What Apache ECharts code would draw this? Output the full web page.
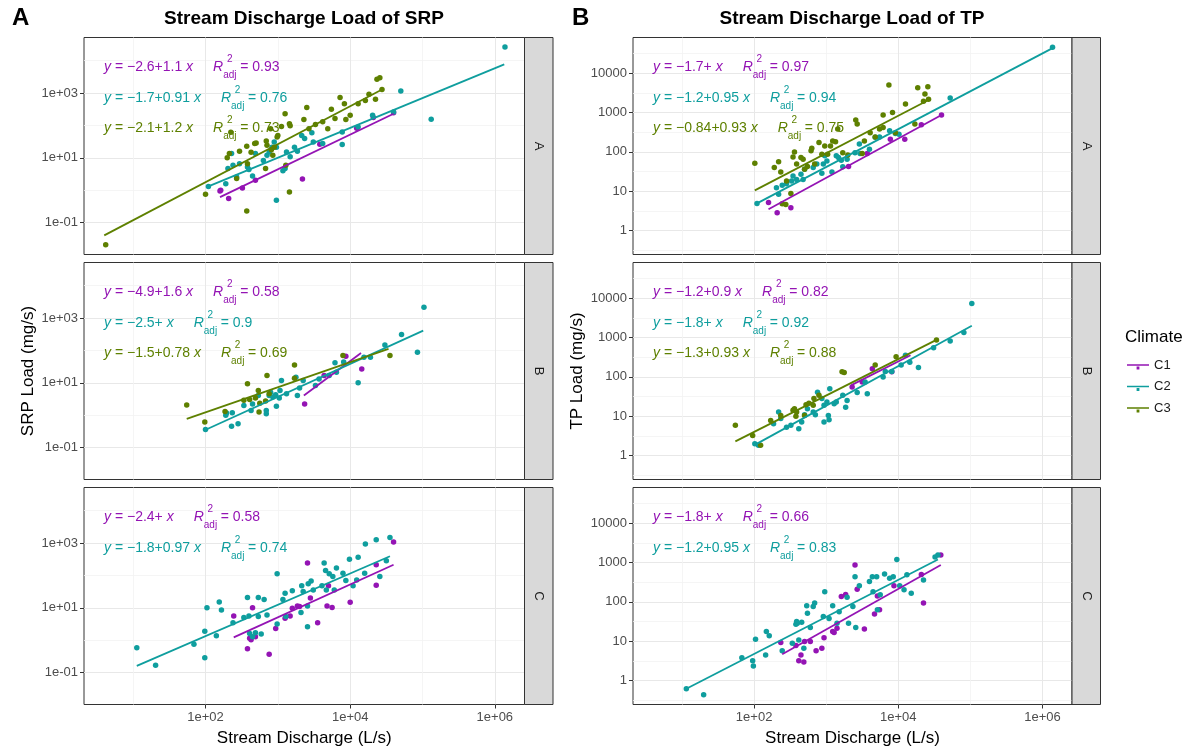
<!DOCTYPE html>
<html><head><meta charset="utf-8">
<script src="https://cdn.jsdelivr.net/npm/echarts@6/dist/echarts.min.js"></script>
<style>html,body{margin:0;padding:0;background:#fff}#c{width:1193px;height:751px}</style>
</head><body><div id="c"></div>
<script>
// All point values are [log10(stream discharge, L/s), log10(load, mg/s)].
// ---------- SRP, facet A ----------
const srpA_C1 = [[2.20,-0.02],[2.21,0.00],[2.32,-0.25],[2.51,0.07],[2.69,0.31],[3.34,0.35],[3.58,1.42],[4.09,1.91],[4.32,2.24],[4.60,2.39]];
const srpA_C2 = [[2.04,0.12],[2.28,0.20],[2.36,1.13],[2.31,0.67],[2.38,0.77],[2.43,0.41],[2.47,0.82],[2.58,0.72],[2.60,0.64],[2.65,0.44],[2.69,1.13],[2.80,0.92],[2.85,1.08],[2.88,1.18],[2.92,1.33],[2.95,1.49],[2.98,1.33],[2.98,-0.31],[3.07,0.60],[3.10,0.67],[3.12,1.18],[3.17,1.03],[3.23,1.33],[3.27,1.20],[3.33,1.69],[3.37,1.60],[3.47,1.77],[3.49,1.49],[3.62,1.44],[3.89,1.41],[3.89,1.80],[4.11,1.95],[4.31,2.31],[4.60,2.41],[4.70,3.06],[5.12,2.19],[6.14,4.42]];
const srpA_C3 = [[0.62,-1.68],[2.00,-0.12],[2.30,1.00],[2.33,1.13],[2.35,1.79],[2.43,0.36],[2.47,1.20],[2.57,-0.64],[2.57,1.36],[2.58,0.82],[2.63,1.17],[2.68,1.44],[2.70,1.46],[2.83,0.67],[2.84,1.52],[2.85,1.39],[2.91,1.25],[2.93,1.08],[2.95,1.33],[2.99,1.64],[3.00,1.69],[2.90,1.90],[3.05,1.97],[3.10,2.36],[3.11,0.77],[3.16,2.05],[3.17,1.99],[3.16,-0.05],[3.36,2.18],[3.40,2.55],[3.43,1.90],[3.52,2.03],[3.62,2.11],[3.69,1.90],[3.74,2.50],[3.79,2.21],[3.86,2.86],[3.92,2.67],[3.94,2.18],[4.00,2.31],[4.11,2.67],[4.21,2.77],[4.26,2.96],[4.35,2.81],[4.37,3.42],[4.41,3.47],[4.44,3.11]];
const fitSrpA_C1 = [[2.20,-0.21],[4.60,2.36]];
const fitSrpA_C2 = [[2.04,0.12],[6.13,3.88]];
const fitSrpA_C3 = [[0.60,-1.39],[4.46,3.13]];
// ---------- SRP, facet B ----------
const srpB_C1 = [[3.37,0.35],[3.64,1.23],[3.94,1.82],[4.16,1.43]];
const srpB_C2 = [[2.00,-0.44],[2.29,0.07],[2.28,0.00],[2.37,0.08],[2.36,-0.34],[2.45,-0.26],[2.53,0.30],[2.63,0.15],[2.65,0.35],[2.73,0.61],[2.84,0.05],[2.84,0.15],[2.88,0.61],[2.90,0.71],[2.93,0.56],[2.97,0.63],[2.98,0.28],[3.02,0.53],[3.03,0.76],[3.05,1.07],[3.12,0.66],[3.25,1.17],[3.27,0.61],[3.30,0.84],[3.35,1.07],[3.52,0.92],[3.57,1.12],[3.71,1.23],[3.79,1.62],[3.81,1.33],[3.91,1.64],[4.11,1.00],[4.19,1.79],[4.28,1.79],[4.48,2.17],[4.71,2.49],[4.93,1.94],[5.02,3.33]];
const srpB_C3 = [[1.74,0.32],[1.99,-0.21],[2.27,0.12],[2.53,0.46],[2.58,0.97],[2.61,0.49],[2.73,0.76],[2.69,0.53],[2.74,0.10],[2.75,0.37],[2.83,0.44],[2.85,1.23],[2.88,0.66],[3.23,1.55],[3.23,1.14],[3.90,1.84],[4.55,1.84]];
const fitSrpB_C1 = [[3.36,0.61],[4.15,1.92]];
const fitSrpB_C2 = [[2.01,-0.44],[5.01,2.61]];
const fitSrpB_C3 = [[1.74,-0.11],[4.53,2.05]];
// ---------- SRP, facet C ----------
const srpC_C1 = [[2.39,0.75],[2.63,0.02],[2.65,1.00],[2.61,0.06],[2.58,-0.26],[2.69,0.11],[2.88,-0.43],[2.97,0.36],[3.10,0.68],[3.17,0.75],[3.20,0.99],[3.27,1.06],[3.30,1.04],[3.41,2.38],[3.45,1.30],[3.55,0.54],[3.70,1.68],[3.68,1.06],[3.75,1.01],[4.00,1.17],[4.36,2.33],[4.36,1.70],[4.60,3.03]];
const srpC_C2 = [[1.05,-0.23],[1.31,-0.77],[1.84,-0.12],[1.99,-0.54],[1.99,0.28],[2.02,1.00],[2.15,0.14],[2.19,1.18],[2.22,0.93],[2.38,0.54],[2.53,0.70],[2.58,1.32],[2.60,0.75],[2.61,0.21],[2.65,0.11],[2.69,0.23],[2.73,1.32],[2.73,0.73],[2.77,0.19],[2.81,1.26],[2.85,0.78],[2.99,2.05],[2.99,0.50],[3.07,1.26],[3.10,1.45],[3.11,0.73],[3.20,1.53],[3.32,0.86],[3.33,1.68],[3.35,1.50],[3.41,0.42],[3.41,1.06],[3.42,1.74],[3.46,1.83],[3.49,1.55],[3.61,1.68],[3.64,2.38],[3.66,2.15],[3.67,1.55],[3.71,2.05],[3.76,1.97],[3.78,1.55],[3.81,2.23],[3.90,2.07],[3.94,1.84],[3.99,2.50],[4.04,1.68],[4.09,1.86],[4.11,2.56],[4.20,2.07],[4.21,2.97],[4.36,3.10],[4.41,1.97],[4.50,2.45],[4.55,3.17]];
const fitSrpC_C1 = [[2.39,0.09],[4.60,2.33]];
const fitSrpC_C2 = [[1.05,-0.79],[4.55,2.59]];
// ---------- TP, facet A ----------
const tpA_C1 = [[2.20,0.71],[2.32,0.45],[2.51,0.58],[3.31,1.63],[3.57,1.96],[3.89,2.32],[4.09,2.32],[4.32,2.69],[4.60,2.94]];
const tpA_C2 = [[2.04,0.69],[2.31,1.09],[2.34,0.92],[2.39,1.15],[2.45,1.19],[2.52,1.26],[2.54,1.39],[2.59,1.30],[2.65,1.43],[2.68,1.30],[2.70,1.56],[2.82,1.60],[2.87,1.69],[2.94,1.46],[2.96,1.69],[2.98,1.90],[3.01,1.77],[3.08,1.49],[3.14,1.90],[3.17,1.86],[3.21,1.79],[3.23,1.62],[3.29,1.81],[3.40,1.98],[3.46,2.20],[3.47,1.96],[3.60,2.07],[3.68,2.37],[3.74,2.38],[3.88,2.54],[3.96,2.47],[4.01,2.45],[4.72,3.37],[6.14,4.66]];
const tpA_C3 = [[2.01,1.71],[2.28,1.60],[2.34,1.75],[2.37,1.49],[2.39,0.68],[2.44,0.66],[2.45,1.26],[2.51,0.94],[2.54,1.87],[2.56,2.00],[2.59,1.69],[2.65,1.86],[2.68,1.81],[2.70,1.56],[2.74,1.63],[2.79,2.03],[2.80,2.09],[2.84,1.69],[2.90,2.24],[2.94,1.94],[2.98,2.15],[3.02,1.94],[3.06,2.15],[3.09,2.28],[3.13,2.26],[3.16,2.58],[3.23,1.98],[3.30,1.92],[3.41,2.81],[3.43,2.71],[3.50,1.96],[3.53,2.28],[3.61,2.49],[3.68,2.38],[3.74,2.58],[3.79,2.94],[3.79,2.62],[3.87,3.70],[3.92,3.00],[3.96,2.49],[4.10,3.22],[4.23,2.71],[4.27,3.63],[4.35,3.29],[4.37,3.47],[4.41,3.66],[4.42,3.34]];
const fitTpA_C1 = [[2.20,0.54],[4.60,2.94]];
const fitTpA_C2 = [[2.04,0.69],[6.14,4.64]];
const fitTpA_C3 = [[2.01,1.02],[4.44,3.34]];
// ---------- TP, facet B ----------
const tpB_C1 = [[3.36,1.74],[3.50,1.87],[3.64,2.21],[3.91,2.13]];
const tpB_C2 = [[2.01,0.30],[2.06,0.26],[2.27,0.81],[2.34,1.11],[2.37,0.94],[2.45,0.72],[2.51,0.77],[2.62,0.68],[2.66,0.85],[2.70,1.04],[2.74,1.19],[2.82,1.11],[2.85,1.04],[2.88,1.61],[2.94,1.45],[2.97,0.85],[2.97,1.28],[3.01,1.36],[3.03,1.02],[3.04,0.91],[3.05,1.70],[3.11,1.32],[3.14,1.36],[3.23,1.53],[3.27,1.23],[3.29,1.40],[3.43,1.60],[3.54,1.87],[3.57,1.57],[3.79,2.00],[3.82,2.14],[3.91,2.14],[4.04,2.30],[4.10,2.55],[4.16,2.37],[4.28,2.24],[4.49,2.74],[4.72,2.91],[4.91,3.13],[5.02,3.87]];
const tpB_C3 = [[1.74,0.77],[1.98,0.51],[2.09,0.26],[2.23,0.89],[2.37,1.02],[2.54,1.15],[2.56,1.19],[2.58,1.00],[2.59,1.11],[2.70,1.02],[2.72,1.29],[2.76,1.33],[2.82,1.28],[2.83,1.45],[2.90,1.53],[3.22,2.13],[3.25,2.11],[3.68,2.30],[3.97,2.51],[4.53,2.94]];
const fitTpB_C1 = [[3.35,1.79],[4.17,2.55]];
const fitTpB_C2 = [[2.01,0.27],[5.02,3.30]];
const fitTpB_C3 = [[1.74,0.36],[4.55,2.96]];
// ---------- TP, facet C ----------
const tpC_C1 = [[2.37,0.97],[2.58,0.89],[2.62,0.50],[2.65,0.65],[2.69,0.47],[2.70,0.99],[2.78,0.99],[2.86,0.76],[2.94,0.82],[2.97,1.09],[3.09,1.25],[3.11,1.22],[3.15,1.33],[3.21,2.14],[3.27,2.19],[3.40,2.94],[3.43,2.32],[3.53,1.31],[3.67,1.69],[3.71,2.15],[3.74,1.80],[3.94,2.41],[4.35,1.97],[4.32,2.70],[4.59,3.19]];
const tpC_C2 = [[1.06,-0.21],[1.30,-0.36],[1.83,0.58],[1.98,0.50],[1.99,0.37],[2.02,1.05],[2.16,0.65],[2.17,1.25],[2.21,1.14],[2.39,0.76],[2.53,0.95],[2.58,1.43],[2.59,1.50],[2.60,1.46],[2.62,1.03],[2.66,1.48],[2.69,0.82],[2.73,1.90],[2.74,1.71],[2.78,1.35],[2.82,1.88],[2.84,1.97],[2.96,1.63],[2.98,2.26],[3.04,1.58],[3.09,1.90],[3.15,1.46],[3.18,1.75],[3.29,2.12],[3.31,1.46],[3.37,1.88],[3.40,2.64],[3.41,1.35],[3.46,2.41],[3.60,2.52],[3.64,2.64],[3.65,2.26],[3.70,2.64],[3.71,1.80],[3.75,2.18],[3.81,2.71],[3.88,2.60],[3.93,2.64],[3.98,3.08],[4.02,2.41],[4.08,2.31],[4.12,2.69],[4.18,2.22],[4.35,2.56],[4.51,3.14],[4.55,3.19]];
const fitTpC_C1 = [[2.39,0.67],[4.59,2.94]];
const fitTpC_C2 = [[1.06,-0.21],[4.55,3.08]];
// ---------- equation labels: [intercept, slope ('' = 1), adj. R2] ----------
const eqSrpA = [['−2.6','1.1','0.93'],['−1.7','0.91','0.76'],['−2.1','1.2','0.73']];
const eqSrpB = [['−4.9','1.6','0.58'],['−2.5','','0.9'],['−1.5','0.78','0.69']];
const eqSrpC = [['−2.4','','0.58'],['−1.8','0.97','0.74']];
const eqTpA  = [['−1.7','','0.97'],['−1.2','0.95','0.94'],['−0.84','0.93','0.75']];
const eqTpB  = [['−1.2','0.9','0.82'],['−1.8','','0.92'],['−1.3','0.93','0.88']];
const eqTpC  = [['−1.8','','0.66'],['−1.2','0.95','0.83']];
// ---------- ticks / labels ----------
const groups = ['C1','C2','C3'];
const facetLabels = ['A','B','C'];
const panelLetters = ['A','B'];
const panelTitles = ['Stream Discharge Load of SRP','Stream Discharge Load of TP'];
const yTitles = ['SRP Load (mg/s)','TP Load (mg/s)'];
const xTitle = 'Stream Discharge (L/s)';
const xTicks = [2,4,6], xTickLabels = ['1e+02','1e+04','1e+06'], xMinor = [1,3,5];
const srpTicks = [-1,1,3], srpTickLabels = ['1e-01','1e+01','1e+03'], srpMinor = [0,2,4];
const tpTicks = [0,1,2,3,4], tpTickLabels = ['1','10','100','1000','10000'], tpMinor = [-0.5,0.5,1.5,2.5,3.5,4.5];

// ---------- style / layout ----------
const F = '"Liberation Sans", Arial, sans-serif';
const COLORS = {C1:'#9414B4', C2:'#0F9E9E', C3:'#5E8000'};
const X_RANGE = [0.32, 6.41];
const Y_RANGE = [[-1.98, 4.71], [-0.61, 4.91]];
const COL_LEFT = [84, 633], COL_W = [440.5, 439];
const ROW_TOP = [37.5, 262.5, 487.5], ROW_H = 217, STRIP_W = 28.5;

const panels = [
  {col:0,row:0,pts:[srpA_C1,srpA_C2,srpA_C3],fit:[fitSrpA_C1,fitSrpA_C2,fitSrpA_C3],eq:eqSrpA},
  {col:0,row:1,pts:[srpB_C1,srpB_C2,srpB_C3],fit:[fitSrpB_C1,fitSrpB_C2,fitSrpB_C3],eq:eqSrpB},
  {col:0,row:2,pts:[srpC_C1,srpC_C2],fit:[fitSrpC_C1,fitSrpC_C2],eq:eqSrpC},
  {col:1,row:0,pts:[tpA_C1,tpA_C2,tpA_C3],fit:[fitTpA_C1,fitTpA_C2,fitTpA_C3],eq:eqTpA},
  {col:1,row:1,pts:[tpB_C1,tpB_C2,tpB_C3],fit:[fitTpB_C1,fitTpB_C2,fitTpB_C3],eq:eqTpB},
  {col:1,row:2,pts:[tpC_C1,tpC_C2],fit:[fitTpC_C1,fitTpC_C2],eq:eqTpC}
];

function fmt(ticks, labels) {
  return function (v) { const k = ticks.findIndex(t => Math.abs(t - v) < 1e-6); return k < 0 ? '' : labels[k]; };
}

const grids = [], xAxes = [], yAxes = [], series = [], graphics = [];
const N = panels.length;
panels.forEach((p, i) => {
  const left = COL_LEFT[p.col], w = COL_W[p.col], top = ROW_TOP[p.row];
  grids.push({left: left, top: top, width: w, height: ROW_H, show: true, backgroundColor: '#fff',
              borderColor: '#333', borderWidth: 1, containLabel: false, outerBoundsMode: 'none'});
  const bottom = p.row === 2;
  const yt = p.col === 0 ? {t: srpTicks, l: srpTickLabels, m: srpMinor} : {t: tpTicks, l: tpTickLabels, m: tpMinor};
  xAxes[i] = {
    type: 'value', gridIndex: i, min: X_RANGE[0], max: X_RANGE[1], position: 'bottom',
    axisLine: {show: false, onZero: false},
    axisTick: {show: bottom, customValues: xTicks, length: 4, lineStyle: {color: '#333', width: 1}},
    axisLabel: {show: bottom, customValues: xTicks, formatter: fmt(xTicks, xTickLabels), color: '#4d4d4d', fontSize: 13, fontFamily: F, margin: 6},
    splitLine: {show: true, lineStyle: {color: '#e8e8e8', width: 1}},
    name: bottom ? xTitle : '', nameLocation: 'middle', nameGap: 25,
    nameTextStyle: {fontSize: 17, color: '#000', fontFamily: F}
  };
  xAxes[N + i] = {
    type: 'value', gridIndex: i, min: X_RANGE[0], max: X_RANGE[1], position: 'top',
    axisLine: {show: false, onZero: false}, axisLabel: {show: false},
    axisTick: {show: false, customValues: xMinor},
    splitLine: {show: true, lineStyle: {color: '#f2f2f2', width: 0.8}}
  };
  yAxes[i] = {
    type: 'value', gridIndex: i, min: Y_RANGE[p.col][0], max: Y_RANGE[p.col][1], position: 'left',
    axisLine: {show: false, onZero: false},
    axisTick: {show: true, customValues: yt.t, length: 4, lineStyle: {color: '#333', width: 1}},
    axisLabel: {show: true, customValues: yt.t, formatter: fmt(yt.t, yt.l), color: '#4d4d4d', fontSize: 13, fontFamily: F, margin: 6},
    splitLine: {show: true, lineStyle: {color: '#e8e8e8', width: 1}},
    name: p.row === 1 ? yTitles[p.col] : '', nameLocation: 'middle', nameRotate: 90, nameGap: 47,
    nameTextStyle: {fontSize: 17, color: '#000', fontFamily: F}
  };
  yAxes[N + i] = {
    type: 'value', gridIndex: i, min: Y_RANGE[p.col][0], max: Y_RANGE[p.col][1], position: 'right',
    axisLine: {show: false, onZero: false}, axisLabel: {show: false},
    axisTick: {show: false, customValues: yt.m},
    splitLine: {show: true, lineStyle: {color: '#f2f2f2', width: 0.8}}
  };
  p.pts.forEach((d, g) => {
    series.push({type: 'scatter', name: groups[g], xAxisIndex: i, yAxisIndex: i, data: d,
      symbol: 'circle', symbolSize: 5.5, itemStyle: {color: COLORS[groups[g]], opacity: 1}, z: 3, silent: true});
  });
  p.fit.forEach((d, g) => {
    series.push({type: 'line', name: groups[g], xAxisIndex: i, yAxisIndex: i, data: d,
      symbol: 'none', lineStyle: {color: COLORS[groups[g]], width: 1.8}, itemStyle: {color: COLORS[groups[g]]}, z: 4, silent: true});
  });
  // facet strip
  graphics.push({type: 'rect', shape: {x: left + w, y: top, width: STRIP_W, height: ROW_H},
    style: {fill: '#d9d9d9', stroke: '#333', lineWidth: 1}, z: 50, silent: true});
  graphics.push({type: 'text', x: left + w + STRIP_W / 2, y: top + ROW_H / 2, rotation: -Math.PI / 2,
    style: {text: facetLabels[p.row], fill: '#1a1a1a', font: '13px ' + F, align: 'center', verticalAlign: 'middle'}, z: 51, silent: true});
  // equation annotations
  const offs = [30, 60.5, 91];
  p.eq.forEach((e, g) => {
    const c = COLORS[groups[g]];
    const txt = '{i|y}{n| = ' + e[0] + '+' + e[1] + ' }{i|x}{g| }{i|R}{sub|adj}{sup|2}{n| = ' + e[2] + '}';
    graphics.push({type: 'text', x: left + 20, y: top + offs[g], z: 60, silent: true,
      style: {text: txt, fill: c, verticalAlign: 'middle', align: 'left', font: '14px ' + F,
        rich: {
          n: {fontFamily: F, fontSize: 14, lineHeight: 26, fill: c},
          i: {fontFamily: F, fontSize: 14, fontStyle: 'italic', lineHeight: 26, fill: c},
          g: {fontFamily: F, fontSize: 14, lineHeight: 26, width: 20},
          sub: {fontFamily: F, fontSize: 10, lineHeight: 12, width: 0.1, verticalAlign: 'bottom', fill: c},
          sup: {fontFamily: F, fontSize: 10, lineHeight: 12, width: 13, align: 'center', verticalAlign: 'top', fill: c}
        }}});
  });
});

// panel letters and titles
[12, 572].forEach((x, k) => {
  graphics.push({type: 'text', x: x, y: 18, z: 60, silent: true,
    style: {text: panelLetters[k], fill: '#000', font: 'bold 24px ' + F, align: 'left', verticalAlign: 'middle'}});
});
[304, 852].forEach((x, k) => {
  graphics.push({type: 'text', x: x, y: 19, z: 60, silent: true,
    style: {text: panelTitles[k], fill: '#000', font: 'bold 19px ' + F, align: 'center', verticalAlign: 'middle'}});
});
// legend title
graphics.push({type: 'text', x: 1125, y: 337, z: 60, silent: true,
  style: {text: 'Climate', fill: '#000', font: '17px ' + F, align: 'left', verticalAlign: 'middle'}});

const LEG_ICON = 'path://M0,0 L0.01,0 L0.01,0.01 Z M0,6.2 L22,6.2 L22,7.8 L0,7.8 Z M9.6,8.6 L12.4,8.6 L12.4,11.4 L9.6,11.4 Z M21.99,13.99 L22,13.99 L22,14 Z';

const chart = echarts.init(document.getElementById('c'), null, {renderer: 'canvas'});
chart.setOption({
  animation: false,
  backgroundColor: '#fff',
  textStyle: {fontFamily: F},
  grid: grids,
  xAxis: xAxes,
  yAxis: yAxes,
  series: series,
  legend: {
    data: groups.map(n => ({name: n, icon: LEG_ICON})),
    orient: 'vertical', left: 1127, top: 358, itemWidth: 22, itemHeight: 14, itemGap: 7.5, padding: 0,
    selectedMode: false, textStyle: {fontSize: 13, color: '#1a1a1a', fontFamily: F}
  },
  graphic: {elements: graphics}
});
</script>
</body></html>
